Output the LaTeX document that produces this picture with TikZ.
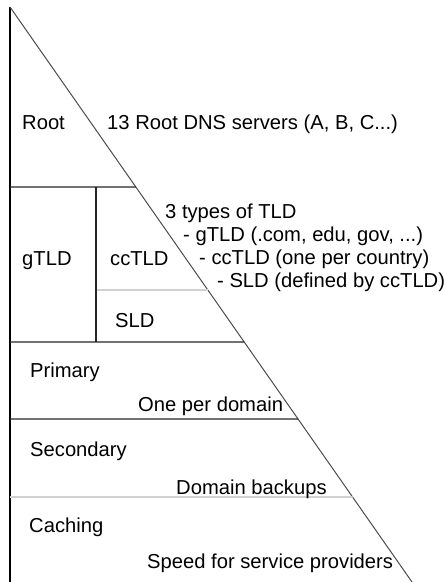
\documentclass[tikz,border=0pt]{standalone}
\usepackage{fontspec}
\setmainfont{Liberation Sans}
\usetikzlibrary{calc}
\begin{document}
\begin{tikzpicture}[x=1pt,y=-1pt,
  lbl/.style={anchor=base west,inner sep=0pt,font=\fontsize{20.2}{23}\selectfont},
  blk/.style={draw=black!85,line width=1.3pt},
  gry/.style={draw=black!18,line width=1.8pt},
  diag/.style={draw=black!70,line width=1pt},
  edge/.style={draw=black,line width=1.5pt}]
\useasboundingbox (0,0) rectangle (444,582);
% frame of the triangle
\coordinate (T) at (10,7);
\coordinate (BL) at (10,582);
\coordinate (BR) at (412,582);
\draw[edge] (T) -- (BL);
\draw[diag] (T) -- (BR);
% level separators
\coordinate (L1) at (10,187);  \coordinate (R1) at ($(T)!{180/575}!(BR)$);
\coordinate (L2) at (96,290);  \coordinate (R2) at ($(T)!{283/575}!(BR)$);
\coordinate (L3) at (10,342);  \coordinate (R3) at ($(T)!{335/575}!(BR)$);
\coordinate (L4) at (10,419);  \coordinate (R4) at ($(T)!{412/575}!(BR)$);
\coordinate (L5) at (10,497);  \coordinate (R5) at ($(T)!{490/575}!(BR)$);
\coordinate (VT) at (96,187);  \coordinate (VB) at (96,342);
\draw[blk] (L1) -- (R1);
\draw[gry] (L2) -- (R2);
\draw[blk] (L3) -- (R3);
\draw[blk] (L4) -- (R4);
\draw[gry] (L5) -- (R5);
\draw[blk] (VT) -- (VB);
% labels
\node[lbl] (root) at (22,129) {Root};
\node[lbl] (rootdesc) at (107,129) {13 Root DNS servers (A, B, C...)};
\node[lbl] (t1) at (165,218) {3 types of TLD};
\node[lbl] (t2) at (183,241) {- gTLD (.com, edu, gov, ...)};
\node[lbl] (t3) at (199,264) {- ccTLD (one per country)};
\node[lbl] (t4) at (217,287) {- SLD (defined by ccTLD)};
\node[lbl] (gtld) at (22,265) {gTLD};
\node[lbl] (cctld) at (110,265) {ccTLD};
\node[lbl] (sld) at (115,327) {SLD};
\node[lbl] (primary) at (30,377) {Primary};
\node[lbl] (oneper) at (138,411) {One per domain};
\node[lbl] (secondary) at (30,456) {Secondary};
\node[lbl] (backups) at (176,494) {Domain backups};
\node[lbl] (caching) at (29,532) {Caching};
\node[lbl] (speed) at (147,568) {Speed for service providers};
\end{tikzpicture}
\end{document}
